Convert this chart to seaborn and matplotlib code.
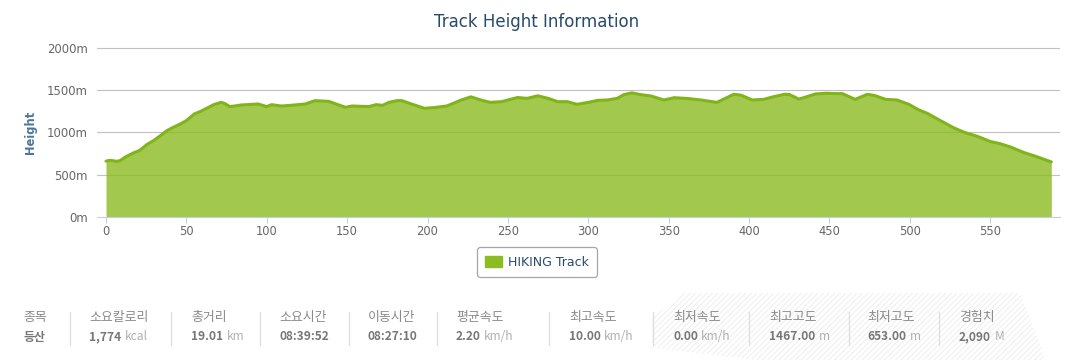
import matplotlib
matplotlib.use("Agg")
import matplotlib.pyplot as plt
import seaborn as sns
import pandas as pd
from matplotlib.patches import Patch, Polygon
from matplotlib.lines import Line2D

# track profile (distance index, height in m)
dist = [0, 2.5, 6.7, 8.8, 12, 17, 21, 25.5, 29.7, 34, 38, 42, 46.4, 50, 55, 59, 63, 67,
        71.5, 73.6, 77, 80, 84, 88, 94.6, 100, 103, 109, 115, 124, 130, 138.5, 143, 149,
        153, 163.6, 168, 172, 176, 181, 184, 190, 198, 204, 212, 221, 227, 233, 239, 246,
        250, 256, 262, 268.5, 275, 281, 287, 293, 300, 306, 312, 318, 322, 327, 333, 339,
        347, 353.5, 362, 370, 380, 385, 390.5, 395, 402, 409, 415, 422, 425, 431, 436,
        441.5, 448, 455, 458, 466, 473.5, 478, 485, 492, 499.5, 505, 511, 519, 527.5, 534,
        542, 550, 556.5, 563, 571, 577, 588]
height = [662, 672, 660, 668, 711, 758, 789, 859, 906, 965, 1023, 1062, 1102, 1140, 1219,
          1250, 1289, 1328, 1355, 1344, 1305, 1312, 1324, 1328, 1336, 1305, 1328, 1312,
          1320, 1336, 1375, 1367, 1336, 1297, 1312, 1305, 1328, 1320, 1355, 1375, 1375,
          1336, 1285, 1293, 1312, 1383, 1420, 1383, 1355, 1363, 1383, 1412, 1402, 1432,
          1402, 1363, 1363, 1332, 1355, 1379, 1383, 1402, 1445, 1467, 1445, 1430, 1383,
          1410, 1400, 1383, 1355, 1400, 1450, 1440, 1383, 1390, 1420, 1450, 1448, 1393,
          1422, 1455, 1462, 1458, 1458, 1390, 1450, 1436, 1390, 1383, 1331, 1271, 1224,
          1140, 1053, 1001, 954, 894, 866, 826, 763, 727, 653]
assert len(dist) == len(height)

x_ticks = [0, 50, 100, 150, 200, 250, 300, 350, 400, 450, 500, 550]
y_ticks = [0, 500, 1000, 1500, 2000]
y_tick_labels = ["0m", "500m", "1000m", "1500m", "2000m"]

# summary table under the chart
stat_labels = ["종목", "소요칼로리", "총거리", "소요시간", "이동시간", "평균속도",
               "최고속도", "최저속도", "최고고도", "최저고도", "경험치"]
stat_values = ["등산", "1,774", "19.01", "08:39:52", "08:27:10", "2.20",
               "10.00", "0.00", "1467.00", "653.00", "2,090"]
stat_units = ["", "kcal", "km", "", "", "km/h", "km/h", "km/h", "m", "m", "M"]

SERIES = "#8bbc21"
W, H = 1068, 360

sns.set_theme(style="white")
plt.rcParams["font.family"] = ["DejaVu Sans", "Noto Sans CJK KR"]
plt.rcParams["hatch.linewidth"] = 0.6

fig = plt.figure(figsize=(W / 100, H / 100), dpi=100)
ax = fig.add_axes([97 / W, 1 - 217.3 / H, (1060 - 97) / W, 170 / H])

df = pd.DataFrame({"dist": dist, "height": height})
ax.fill_between(df["dist"], df["height"], 0, color=SERIES, alpha=0.8, lw=0, zorder=2)
sns.lineplot(data=df, x="dist", y="height", ax=ax, color="#80b41a", lw=2.2, zorder=3)

ax.set_xlim(-5.6, 593.4)
ax.set_ylim(0, 2004)
ax.set_xticks(x_ticks)
ax.set_yticks(y_ticks)
ax.set_yticklabels(y_tick_labels)
for v in y_ticks[1:]:
    ax.axhline(v, color="#c0c0c0", lw=0.8, zorder=1)

for s in ["top", "right", "left"]:
    ax.spines[s].set_visible(False)
ax.spines["bottom"].set_color("#c0d0e0")
ax.spines["bottom"].set_linewidth(0.8)
ax.tick_params(axis="x", length=4, width=0.8, color="#c0d0e0", pad=1.5,
               labelsize=8.3, labelcolor="#666666", bottom=True)
ax.tick_params(axis="y", length=0, pad=6.5, labelsize=8.4, labelcolor="#666666")

ax.set_xlabel("")
ax.set_ylabel("Height", fontsize=8.3, fontweight="bold", color="#4d759e", labelpad=7)

fig.text(537 / W, 1 - 22 / H, "Track Height Information", ha="center", va="center",
         fontsize=12, color="#274b6d")

leg = fig.legend(handles=[Patch(facecolor=SERIES, edgecolor=SERIES, label="HIKING Track")],
                 loc="center", bbox_to_anchor=(537 / W, 1 - 262 / H), frameon=True,
                 fontsize=9, handlelength=1.3, handleheight=1.0, handletextpad=0.5,
                 borderpad=0.65, fancybox=True)
leg.get_frame().set_edgecolor("#909090")
leg.get_frame().set_linewidth(0.9)
for t in leg.get_texts():
    t.set_color("#274b6d")

# light hatched band behind the right half of the table
band = [(652, 318), (684, 293), (1020, 293), (1046, 360), (760, 360), (652, 348)]
poly = Polygon([(px / W, 1 - py / H) for px, py in band], closed=True,
               transform=fig.transFigure, facecolor="none", edgecolor="#ececec",
               lw=0, hatch="//////", zorder=0)
fig.add_artist(poly)

label_x = [23, 89, 191, 279, 368, 456, 569, 673, 769, 867, 959]
sep_x = [70, 171, 260, 349, 437, 549, 653, 749, 849, 939]
cjk = ["Noto Sans CJK KR", "DejaVu Sans"]

for sx in sep_x:
    fig.add_artist(Line2D([sx / W, sx / W], [1 - 312 / H, 1 - 345 / H],
                          transform=fig.transFigure, color="#dddddd", lw=0.9))

for lx, lab, val, unit in zip(label_x, stat_labels, stat_values, stat_units):
    fig.text(lx / W, 1 - 317 / H, lab, ha="left", va="center", fontsize=9.3,
             color="#8a8a8a", family=cjk)
    vt = fig.text(lx / W, 1 - 337 / H, val, ha="left", va="center", fontsize=8.6,
                  color="#777777", fontweight="bold", family=cjk)
    if unit:
        ax.annotate(unit, xy=(1, 0.5), xycoords=vt, xytext=(2.5, 0),
                    textcoords="offset points", ha="left", va="center",
                    fontsize=8.6, color="#b0b0b0", family=cjk, annotation_clip=False)

fig.savefig("out.png", dpi=100)
